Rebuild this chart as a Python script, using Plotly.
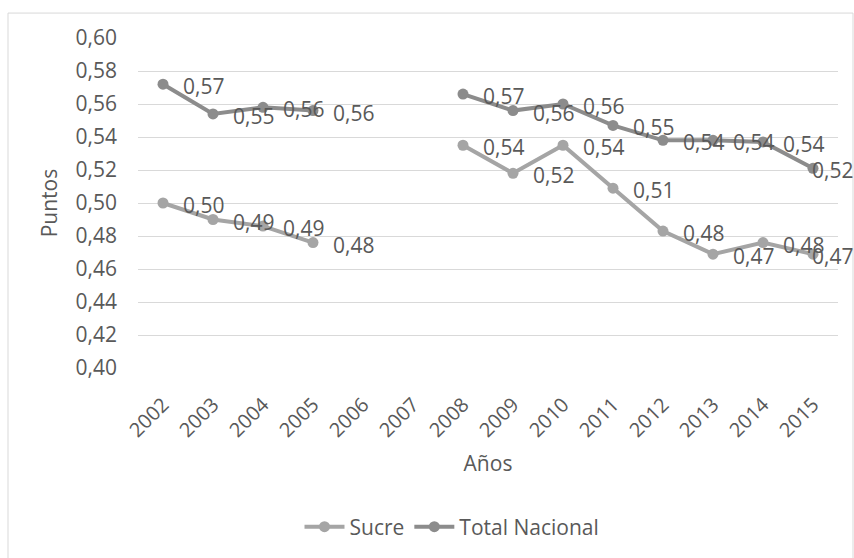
import plotly.graph_objects as go

years = [str(y) for y in range(2002, 2016)]
sucre = [0.500, 0.490, 0.486, 0.476, None, None, 0.535, 0.518, 0.535, 0.509, 0.483, 0.469, 0.476, 0.469]
nacional = [0.572, 0.554, 0.558, 0.556, None, None, 0.566, 0.556, 0.560, 0.547, 0.538, 0.538, 0.537, 0.521]

font_family = "Open Sans, Noto Sans, sans-serif"
text_color = "#595959"

series = [
    ("Sucre", sucre, "#a5a5a5"),
    ("Total Nacional", nacional, "#8c8c8c"),
]

fig = go.Figure()
annotations = []

for name, vals, color in series:
    fig.add_trace(go.Scatter(
        x=years, y=vals, name=name,
        mode="lines+markers",
        line=dict(color=color, width=4),
        marker=dict(color=color, size=11),
        connectgaps=False,
        cliponaxis=False,
    ))
    # data labels to the right of each point; the last one is pulled back like Excel does
    for i, v in enumerate(vals):
        if v is None:
            continue
        last = i == len(years) - 1
        annotations.append(dict(
            x=i, y=v, xref="x", yref="y",  # category index on the category axis
            text=f"{v:.2f}".replace(".", ","),
            showarrow=False, xanchor="left", yanchor="middle",
            xshift=-3 if last else 18, yshift=-2,
            font=dict(size=21, color=text_color, family=font_family),
        ))

W, H = 854, 558
L, R, T, B = 138, 16, 38, 189
pw, ph = W - L - R, H - T - B

fig.update_layout(
    width=W, height=H,
    margin=dict(l=L, r=R, t=T, b=B),
    paper_bgcolor="white", plot_bgcolor="white",
    separators=",.",
    font=dict(family=font_family, color=text_color),
    showlegend=True,
    legend=dict(
        orientation="h", x=(452 - L) / pw, xanchor="center",
        y=-(527 - 369) / ph, yanchor="middle",
        font=dict(size=21, color=text_color), itemwidth=40,
    ),
    xaxis=dict(
        type="category", range=[-0.5, len(years) - 0.5],
        tickangle=-45, tickfont=dict(size=20, color=text_color),
        showgrid=False, showline=False, ticks="", automargin=False,
        ticklabelstandoff=20,
        title=dict(text="Años", font=dict(size=21, color=text_color), standoff=14),
    ),
    yaxis=dict(
        range=[0.40, 0.60], dtick=0.02, tickformat=".2f",
        tickfont=dict(size=21, color=text_color),
        gridcolor="#d9d9d9", gridwidth=1, zeroline=False, showline=False,
        ticks="", automargin=False, ticklabelstandoff=20,
        title=dict(text="Puntos", font=dict(size=21, color=text_color), standoff=12),
    ),
    annotations=annotations,
    shapes=[dict(
        type="rect", xref="paper", yref="paper",
        x0=(8 - L) / pw, x1=(853 - L) / pw, y0=-(B + 5) / ph, y1=1 + 25 / ph,
        line=dict(color="#d9d9d9", width=1), fillcolor="rgba(0,0,0,0)",
        layer="below",
    )],
)

fig.write_html(
    "out.html",
    config={"displayModeBar": False},
    post_script="document.body.style.margin='0';",
)
